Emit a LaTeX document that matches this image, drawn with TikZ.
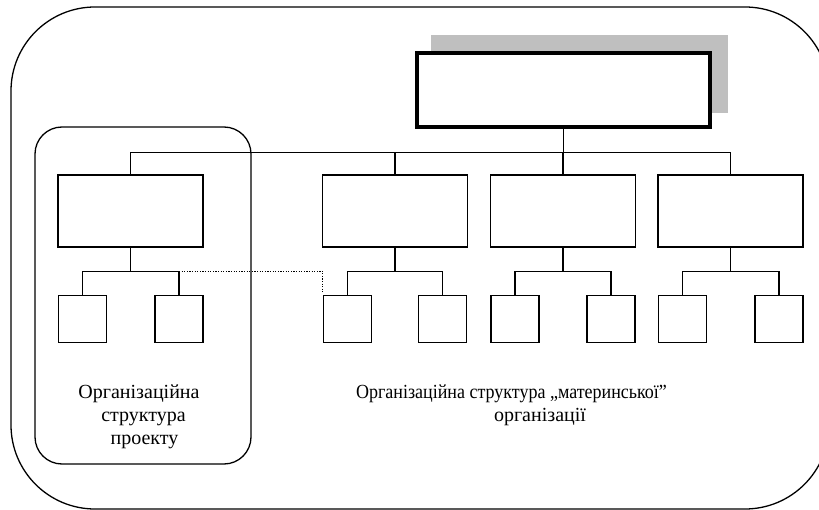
\documentclass[tikz,border=0pt]{standalone}
\usepackage{fontspec}
\setmainfont{Liberation Serif}
\usetikzlibrary{backgrounds,calc}
\begin{document}
\begin{tikzpicture}[x=1pt,y=-1pt,
  box/.style={draw,line width=1.3pt,fill=white,inner sep=0pt},
  bigbox/.style={box,minimum width=145pt,minimum height=72pt},
  smallbox/.style={box,minimum width=48pt,minimum height=47pt},
  conn/.style={line width=1.3pt},
  lbl/.style={font=\fontsize{20}{23}\selectfont,inner sep=0pt,anchor=base}]
\clip (0,0) rectangle (819,510);
% outer and inner frames
\draw[line width=1.3pt,rounded corners=84pt] (11,7) rectangle (829,509);
\draw[line width=1.3pt,rounded corners=27pt] (35,127) rectangle (251,464);
% top box
\node[box,line width=3.2pt,minimum width=293pt,minimum height=74pt] (top) at (563.5,90) {};
\begin{scope}[on background layer]
\fill[black!25] ($(top.south west)+(16,-16)$) rectangle ($(top.north east)+(16,-16)$);
\end{scope}
% middle boxes
\node[bigbox] (m1) at (130.5,211) {};
\node[bigbox] (m2) at (395,211) {};
\node[bigbox] (m3) at (563,211) {};
\node[bigbox] (m4) at (730.5,211) {};
% small boxes
\node[smallbox] (a1) at (82.5,319) {};
\node[smallbox] (a2) at (179,319) {};
\node[smallbox] (b1) at (347.5,319) {};
\node[smallbox] (b2) at (442.5,319) {};
\node[smallbox] (c1) at (515,319) {};
\node[smallbox] (c2) at (611,319) {};
\node[smallbox] (d1) at (682.5,319) {};
\node[smallbox] (d2) at (779,319) {};
% buses
\coordinate (bus) at (0,152.5);
\coordinate (sub) at (0,271.5);
\draw[conn] (m1.north) |- (m4.north |- bus) -- (m4.north);
\draw[conn] (top.south) -- (top.south |- bus);
\draw[conn] (m2.north) -- (m2.north |- bus);
\draw[conn] (m3.north) -- (m3.north |- bus);
\foreach \m/\l/\r in {m1/a1/a2,m2/b1/b2,m3/c1/c2,m4/d1/d2}{
  \draw[conn] (\m.south) -- (\m.south |- sub);
  \draw[conn] (\l.north) |- (\r.north |- sub) -- (\r.north);
}
% dotted link
\draw[line width=1.1pt,dash pattern=on 1.1pt off 1.5pt,shorten >=2.5pt] (a2.north |- sub) -| (b1.north west);
% labels
\node[lbl] (t1) at (139,398) {Організаційна};
\node[lbl] (t2) at (143.5,421) {структура};
\node[lbl] (t3) at (144.5,444) {проекту};
\node[lbl] (t4) at (511.5,398) {\scalebox{0.9}[1]{Організаційна структура „материнської”}};
\node[lbl] (t5) at (540,421) {організації};
\end{tikzpicture}
\end{document}
